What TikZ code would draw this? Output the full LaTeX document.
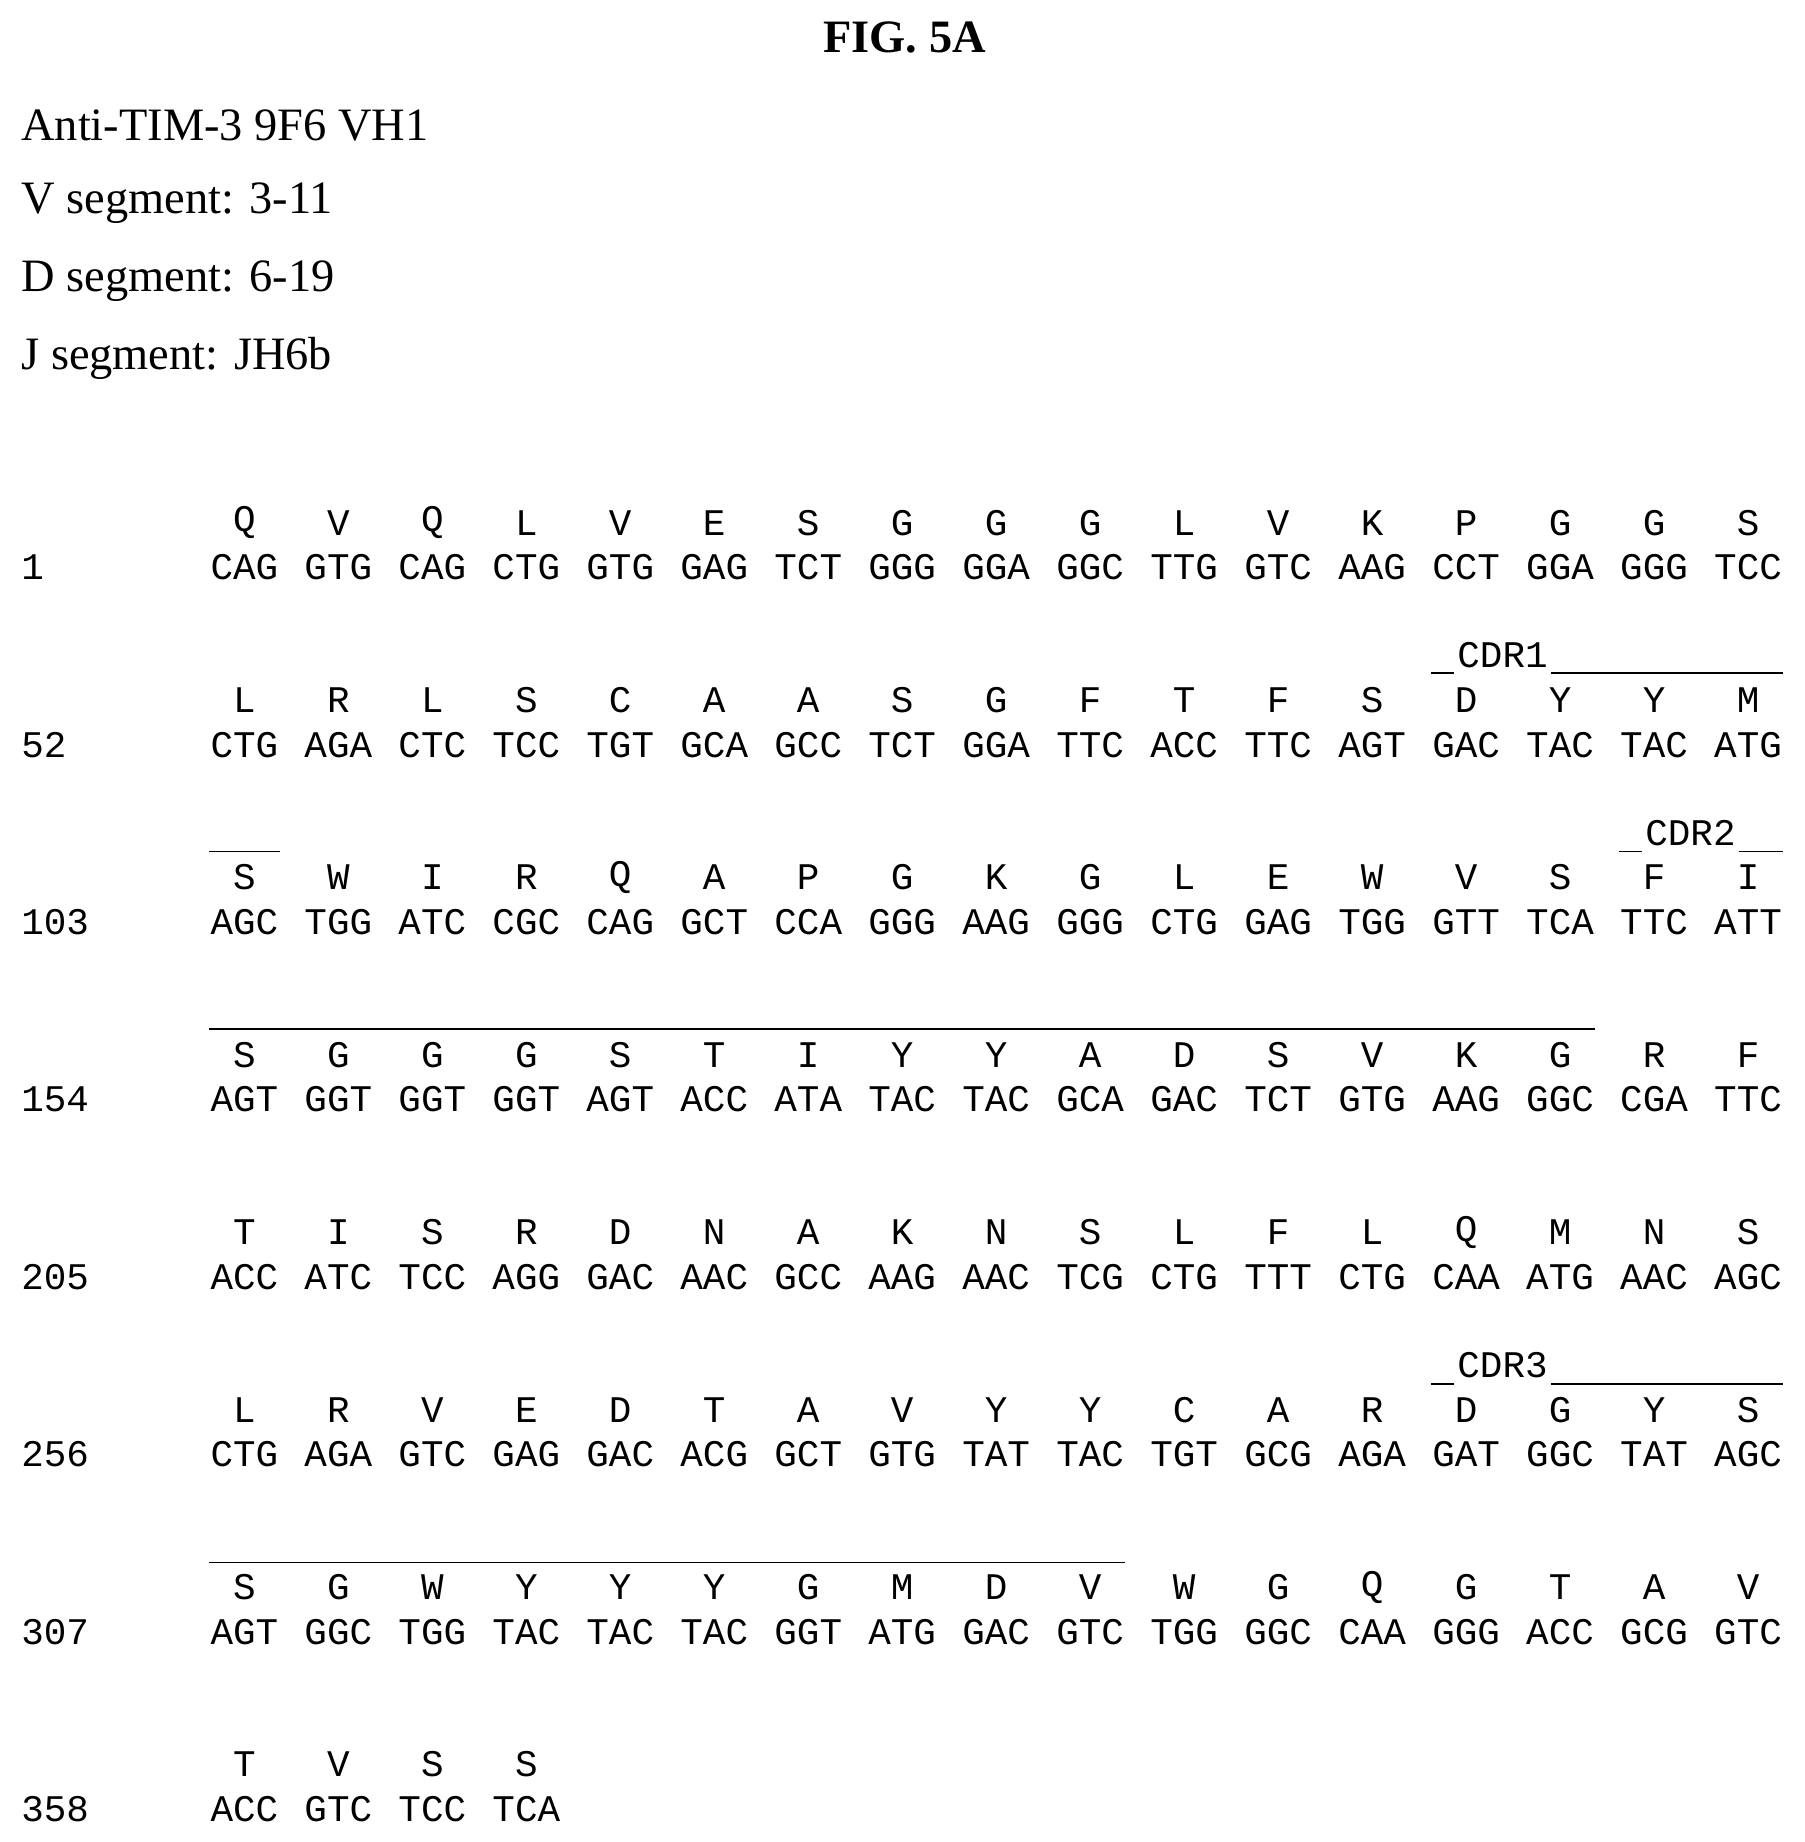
\documentclass[tikz,border=0pt]{standalone}
\usepackage{fontspec}
\setmainfont{Liberation Serif}
\setmonofont{Liberation Mono}
\tikzset{hdr/.style={anchor=west,inner sep=0pt,font=\fontsize{39.5}{44}\selectfont},
 sq/.style={inner sep=0pt,font=\ttfamily\fontsize{32}{36}\selectfont},
 cdr/.style={line width=1.2pt}}
\newcommand\seqrow[5]{%
 \node[sq,anchor=west] (n#1) at (18,#3+38) {#2};
 \foreach \a [count=\i] in {#4} {\node[sq] (a#1-\i) at (128+80*\i,#3) {\a};}
 \foreach \c [count=\i] in {#5} {\node[sq] (c#1-\i) at (128+80*\i,#3+38) {\c};}
}
\begin{document}
\begin{tikzpicture}[x=1pt,y=-1pt]
\useasboundingbox (0,0) rectangle (1536,1568);
\node[inner sep=0pt,font=\bfseries\fontsize{39.5}{44}\selectfont] (title) at (770,32) {FIG. 5A};
\node[hdr] (h1) at (18,107) {Anti-TIM-3 9F6 VH1};
\node[hdr] (h2) at (18,173) {V segment: 3-11};
\node[hdr] (h3) at (18,239) {D segment: 6-19};
\node[hdr] (h4) at (18,305) {J segment: JH6b};
\seqrow{1}{1}{445}{Q,V,Q,L,V,E,S,G,G,G,L,V,K,P,G,G,S}{CAG,GTG,CAG,CTG,GTG,GAG,TCT,GGG,GGA,GGC,TTG,GTC,AAG,CCT,GGA,GGG,TCC}
\seqrow{2}{52}{596}{L,R,L,S,C,A,A,S,G,F,T,F,S,D,Y,Y,M}{CTG,AGA,CTC,TCC,TGT,GCA,GCC,TCT,GGA,TTC,ACC,TTC,AGT,GAC,TAC,TAC,ATG}
\seqrow{3}{103}{747}{S,W,I,R,Q,A,P,G,K,G,L,E,W,V,S,F,I}{AGC,TGG,ATC,CGC,CAG,GCT,CCA,GGG,AAG,GGG,CTG,GAG,TGG,GTT,TCA,TTC,ATT}
\seqrow{4}{154}{898}{S,G,G,G,S,T,I,Y,Y,A,D,S,V,K,G,R,F}{AGT,GGT,GGT,GGT,AGT,ACC,ATA,TAC,TAC,GCA,GAC,TCT,GTG,AAG,GGC,CGA,TTC}
\seqrow{5}{205}{1049}{T,I,S,R,D,N,A,K,N,S,L,F,L,Q,M,N,S}{ACC,ATC,TCC,AGG,GAC,AAC,GCC,AAG,AAC,TCG,CTG,TTT,CTG,CAA,ATG,AAC,AGC}
\seqrow{6}{256}{1200}{L,R,V,E,D,T,A,V,Y,Y,C,A,R,D,G,Y,S}{CTG,AGA,GTC,GAG,GAC,ACG,GCT,GTG,TAT,TAC,TGT,GCG,AGA,GAT,GGC,TAT,AGC}
\seqrow{7}{307}{1351}{S,G,W,Y,Y,Y,G,M,D,V,W,G,Q,G,T,A,V}{AGT,GGC,TGG,TAC,TAC,TAC,GGT,ATG,GAC,GTC,TGG,GGC,CAA,GGG,ACC,GCG,GTC}
\seqrow{8}{358}{1502}{T,V,S,S}{ACC,GTC,TCC,TCA}
% CDR1
\node[sq] (cdr1) at (1279,558) {CDR1};
\coordinate (p1) at (1218,573); \coordinate (p2) at (1238,573);
\coordinate (p3) at (1320,573); \coordinate (p4) at (1518,573);
\draw[cdr] (p1) -- (p2) (p3) -- (p4);
\coordinate (p5) at (178,725); \coordinate (p6) at (238,725);
\draw[cdr] (p5) -- (p6);
% CDR2
\node[sq] (cdr2) at (1439,709) {CDR2};
\coordinate (q1) at (1378,725); \coordinate (q2) at (1398,725);
\coordinate (q3) at (1480,725); \coordinate (q4) at (1518,725);
\draw[cdr] (q1) -- (q2) (q3) -- (q4);
\coordinate (q5) at (178,876); \coordinate (q6) at (1358,876);
\draw[cdr] (q5) -- (q6);
% CDR3
\node[sq] (cdr3) at (1279,1162) {CDR3};
\coordinate (r1) at (1218,1178); \coordinate (r2) at (1238,1178);
\coordinate (r3) at (1320,1178); \coordinate (r4) at (1518,1178);
\draw[cdr] (r1) -- (r2) (r3) -- (r4);
\coordinate (r5) at (178,1330); \coordinate (r6) at (958,1330);
\draw[cdr] (r5) -- (r6);
\end{tikzpicture}
\end{document}
